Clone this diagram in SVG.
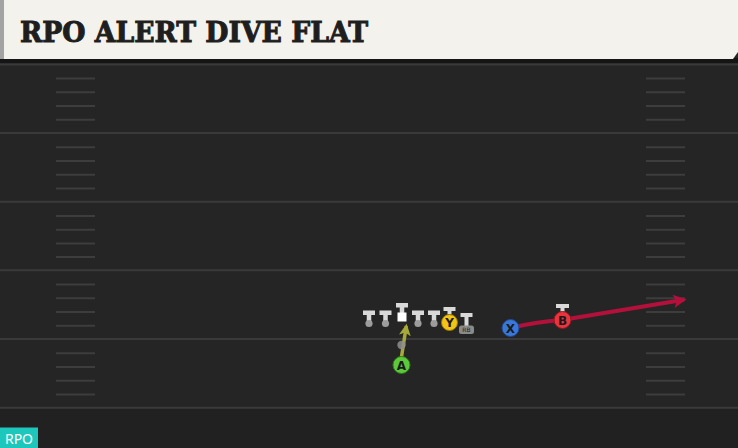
<svg xmlns="http://www.w3.org/2000/svg" width="738" height="448" viewBox="0 0 738 448">
<style>
.yl{stroke:#3a3a3a;stroke-width:2}
.hs{stroke:#3d3d3d;stroke-width:2}
.tb{fill:#d9d9d9}
.dot{fill:#9c9c9c}
.lbl{font-family:"DejaVu Sans","Liberation Sans",sans-serif;font-weight:bold;font-size:12px;fill:#1a1a1a;text-anchor:middle}
</style>
<defs>
<marker id="ahR" viewBox="0 0 10 10" refX="8" refY="5" markerWidth="3.2" markerHeight="3.2" orient="auto" markerUnits="strokeWidth"><path d="M0,0 L10,5 L0,10 L2.5,5 z" fill="#b3103b"/></marker>
<marker id="ahG" viewBox="0 0 10 10" refX="8" refY="5" markerWidth="3.4" markerHeight="3.4" orient="auto" markerUnits="strokeWidth"><path d="M0,0 L10,5 L0,10 L2.5,5 z" fill="#a6a83a"/></marker>
<g id="tee"><rect x="-6" y="-13" width="12" height="4.5" class="tb"/><rect x="-2.25" y="-9" width="4.5" height="9" class="tb"/><circle cx="0" cy="0" r="3.6" class="dot"/></g>
</defs>
<rect x="0" y="0" width="738" height="448" fill="#252525"/>
<rect x="0" y="408" width="738" height="40" fill="#212121"/>
<g id="field">
<line class="yl" x1="0" y1="64.5" x2="738" y2="64.5"/>
<line class="yl" x1="0" y1="133" x2="738" y2="133"/>
<line class="yl" x1="0" y1="201.7" x2="738" y2="201.7"/>
<line class="yl" x1="0" y1="270.3" x2="738" y2="270.3"/>
<line class="yl" x1="0" y1="339" x2="738" y2="339"/>
<line class="yl" x1="0" y1="407.7" x2="738" y2="407.7"/>
<g class="hs">
<path d="M56 78.6H95M56 92.3H95M56 106H95M56 119.8H95M56 147.3H95M56 161H95M56 174.8H95M56 188.5H95M56 216H95M56 229.7H95M56 243.4H95M56 257.1H95M56 284.6H95M56 298.3H95M56 312H95M56 325.8H95M56 353.3H95M56 367H95M56 380.7H95M56 394.4H95"/>
<path d="M646 78.6H685M646 92.3H685M646 106H685M646 119.8H685M646 147.3H685M646 161H685M646 174.8H685M646 188.5H685M646 216H685M646 229.7H685M646 243.4H685M646 257.1H685M646 284.6H685M646 298.3H685M646 312H685M646 325.8H685M646 353.3H685M646 367H685M646 380.7H685M646 394.4H685"/>
</g>
</g>
<g id="header">
<rect x="0" y="58" width="738" height="5" fill="#151515"/>
<polygon points="0,0 738,0 738,52 733,59 0,59" fill="#f4f2ec"/>
<rect x="0" y="0" width="4" height="59" fill="#a3a3a3"/>
<text x="20" y="42" font-family="'DejaVu Serif','Liberation Serif',serif" font-weight="bold" font-size="28" fill="#1e1e1e" textLength="348" lengthAdjust="spacingAndGlyphs" stroke="#1e1e1e" stroke-width="1">RPO ALERT DIVE FLAT</text>
</g>
<g id="connectors">
<path d="M401.5,357 L406.3,326" fill="none" stroke="#a6a83a" stroke-width="3.5" marker-end="url(#ahG)"/>
<path d="M510.5,328 Q535,322 562,320 L684,299.7" fill="none" stroke="#b3103b" stroke-width="4.2" marker-end="url(#ahR)"/>
</g>
<g id="lt"><use href="#tee" x="369" y="323.5"/></g>
<g id="lg"><use href="#tee" x="385.5" y="323.5"/></g>
<g id="c"><rect x="396" y="303" width="12" height="4.5" class="tb"/><rect x="399.75" y="307" width="4.5" height="6" class="tb"/><rect x="397.5" y="312.5" width="9" height="9" fill="#ffffff"/></g>
<g id="rg"><use href="#tee" x="418" y="323.5"/></g>
<g id="rt"><use href="#tee" x="434" y="323.5"/></g>
<g id="qb"><circle cx="401.5" cy="345" r="4.2" fill="#8f8f8f" opacity="0.85"/></g>
<g id="Y"><rect x="443.5" y="307" width="12" height="4" class="tb"/><rect x="447.5" y="310.5" width="4" height="4" class="tb"/><circle cx="449.5" cy="322.5" r="8" fill="#f2c417" stroke="#9a7a05" stroke-width="1"/><text class="lbl" x="449.5" y="327">Y</text></g>
<g id="RB"><rect x="460.5" y="313" width="12" height="4" class="tb"/><rect x="464.5" y="316.5" width="4" height="9.5" class="tb"/><rect x="459" y="325.5" width="15" height="8.5" rx="2.5" fill="#8a8a8a"/><text x="466.5" y="332" font-family="'DejaVu Sans','Liberation Sans',sans-serif" font-size="6" fill="#222" text-anchor="middle">RB</text></g>
<g id="A"><circle cx="401.5" cy="365" r="8.5" fill="#5cc93a" stroke="#2f7d1c" stroke-width="1"/><text class="lbl" x="401.5" y="369.5">A</text></g>
<g id="X"><circle cx="510.5" cy="328" r="8.5" fill="#3a78d8" stroke="#1e4a96" stroke-width="1"/><text class="lbl" x="510.5" y="332.5">X</text></g>
<g id="B"><rect x="556" y="304" width="13" height="4" class="tb"/><rect x="560.5" y="307.5" width="4" height="4.5" class="tb"/><circle cx="562.5" cy="320" r="8.5" fill="#e8343f" stroke="#8f1820" stroke-width="1"/><text class="lbl" x="562.5" y="324.5">B</text></g>
<g id="tag"><rect x="0" y="427.5" width="38" height="20.5" fill="#1ec7bb"/><text x="19" y="444" font-family="'Noto Sans','Liberation Sans',sans-serif" font-size="14" fill="#ffffff" text-anchor="middle">RPO</text></g>
</svg>
